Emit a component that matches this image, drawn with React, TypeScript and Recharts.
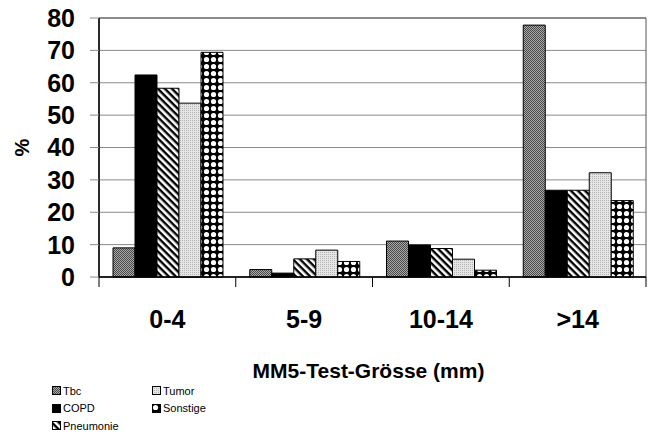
import React from "react";
import { BarChart, Bar, XAxis, YAxis, CartesianGrid, Label, ReferenceArea } from "recharts";

const categories = ["0-4", "5-9", "10-14", ">14"];
const tbc = [9.0, 2.3, 11.1, 77.8];
const copd = [62.4, 1.2, 9.9, 26.8];
const pneumonie = [58.3, 5.6, 8.8, 26.8];
const tumor = [53.7, 8.3, 5.5, 32.2];
const sonstige = [69.4, 4.8, 2.1, 23.6];
const yTicks = [0, 10, 20, 30, 40, 50, 60, 70, 80];

const series = [
  { key: "Tbc", values: tbc, fill: "url(#pTbc)" },
  { key: "COPD", values: copd, fill: "#000" },
  { key: "Pneumonie", values: pneumonie, fill: "url(#pPneu)" },
  { key: "Tumor", values: tumor, fill: "url(#pTumor)" },
  { key: "Sonstige", values: sonstige, fill: "url(#pSonst)" },
];

const data = categories.map((c, i) => {
  const row: any = { cat: c };
  series.forEach((s) => (row[s.key] = s.values[i]));
  return row;
});

const FONT = "'Liberation Sans', Arial, sans-serif";

const XTick = (props: any) => {
  const { x, y, payload, index, visibleTicksCount } = props;
  const half = payload && payload.offset ? payload.offset : 68.4;
  const isLast = index === visibleTicksCount - 1;
  return (
    <g>
      <line x1={x - half} x2={x - half} y1={y} y2={y + 10} stroke="#000" strokeWidth={1} />
      {isLast && <line x1={x + half} x2={x + half} y1={y} y2={y + 10} stroke="#000" strokeWidth={1} />}
      <text x={x} y={y + 51} textAnchor="middle" fontFamily={FONT} fontWeight="bold" fontSize={25} fill="#000">
        {payload.value}
      </text>
    </g>
  );
};

const legendLeft = [series[0], series[1], series[2]];
const legendRight = [series[3], series[4]];

const LegendBlock = () => {
  const item = (s: any) => (
    <div key={s.key} style={{ display: "flex", alignItems: "center", height: 17.5 }}>
      <svg width={9} height={9} style={{ marginRight: 2 }}>
        <rect x={0.5} y={0.5} width={8} height={8} fill={s.fill} stroke="#000" strokeWidth={1} />
      </svg>
      <span style={{ fontFamily: FONT, fontSize: 11, color: "#000", lineHeight: "12px" }}>{s.key}</span>
    </div>
  );
  return (
    <div style={{ position: "absolute", left: 52, top: 382, display: "flex", alignItems: "flex-start" }}>
      <div style={{ width: 100 }}>{legendLeft.map(item)}</div>
      <div>{legendRight.map(item)}</div>
    </div>
  );
};

export default function App() {
  return (
    <div style={{ position: "absolute", left: 0, top: 0, width: 650, height: 436, background: "#fff" }}>
      <BarChart
        width={650}
        height={436}
        data={data}
        margin={{ top: 18, right: 4, bottom: 0, left: 0 }}
        barCategoryGap={14}
        barGap={0}
      >
        <defs>
          <pattern id="pTbc" width={2} height={2} patternUnits="userSpaceOnUse">
            <rect width={2} height={2} fill="#a8a8a8" />
            <rect x={0} y={0} width={1} height={1} fill="#4a4a4a" />
            <rect x={1} y={1} width={1} height={1} fill="#4a4a4a" />
          </pattern>
          <pattern id="pTumor" width={2} height={2} patternUnits="userSpaceOnUse">
            <rect width={2} height={2} fill="#e6e6e6" />
            <rect x={0} y={0} width={1} height={1} fill="#b4b4b4" />
          </pattern>
          <pattern id="pPneu" width={5} height={5} patternUnits="userSpaceOnUse" patternTransform="rotate(45)">
            <rect width={5} height={5} fill="#fff" />
            <rect width={5} height={2.4} fill="#000" />
          </pattern>
          <pattern id="pSonst" width={7} height={7} patternUnits="userSpaceOnUse">
            <rect width={7} height={7} fill="#000" />
            <circle cx={3.5} cy={3.5} r={2.6} fill="#fff" />
          </pattern>
        </defs>
        <CartesianGrid yAxisId="left" vertical={false} stroke="#8a8a8a" strokeWidth={1} />
        <ReferenceArea yAxisId="left" y1={0} y2={80} fill="none" stroke="#555" strokeWidth={1} ifOverflow="visible" />
        <XAxis
          dataKey="cat"
          height={159}
          axisLine={{ stroke: "#000", strokeWidth: 1.5 }}
          tickLine={false}
          tickSize={0}
          tickMargin={0}
          tick={<XTick />}
          interval={0}
        >
          <Label
            value="MM5-Test-Grösse (mm)"
            position="center"
            dx={-4}
            dy={14}
            style={{ fontFamily: FONT, fontWeight: "bold", fontSize: 21, fill: "#000" }}
          />
        </XAxis>
        <YAxis
          yAxisId="left"
          width={99}
          domain={[0, 80]}
          ticks={yTicks}
          interval={0}
          axisLine={{ stroke: "#000", strokeWidth: 1.5 }}
          tickLine={{ stroke: "#8a8a8a" }}
          tickSize={9}
          tickMargin={15}
          tick={{ fontFamily: FONT, fontWeight: "bold", fontSize: 25, fill: "#000" }}
        >
          <Label
            value="%"
            angle={-90}
            position="center"
            dx={-28}
            style={{ fontFamily: FONT, fontWeight: "bold", fontSize: 20, fill: "#000", textAnchor: "middle" }}
          />
        </YAxis>
        {series.map((s) => (
          <Bar
            key={s.key}
            yAxisId="left"
            dataKey={s.key}
            fill={s.fill}
            stroke="#000"
            strokeWidth={1}
            isAnimationActive={false}
          />
        ))}
      </BarChart>
      <LegendBlock />
    </div>
  );
}
